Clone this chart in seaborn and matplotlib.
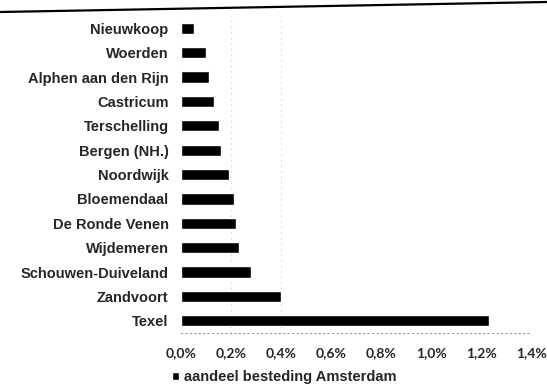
import matplotlib
matplotlib.use("Agg")
import matplotlib.pyplot as plt
from matplotlib.lines import Line2D
import seaborn as sns
import pandas as pd

# Share of Amsterdam spending per municipality (percent)
gemeenten = [
    "Nieuwkoop", "Woerden", "Alphen aan den Rijn", "Castricum", "Terschelling",
    "Bergen (NH.)", "Noordwijk", "Bloemendaal", "De Ronde Venen", "Wijdemeren",
    "Schouwen-Duiveland", "Zandvoort", "Texel",
]
aandeel = [0.05, 0.10, 0.11, 0.13, 0.15, 0.16, 0.19, 0.21, 0.22, 0.23, 0.28, 0.40, 1.23]
tick_values = [0.0, 0.2, 0.4, 0.6, 0.8, 1.0, 1.2, 1.4]
tick_labels = ["0,0%", "0,2%", "0,4%", "0,6%", "0,8%", "1,0%", "1,2%", "1,4%"]
legend_label = "aandeel besteding Amsterdam"

df = pd.DataFrame({"gemeente": gemeenten, "aandeel": aandeel})

sns.set_style("white")
plt.rcParams["font.family"] = ["Liberation Sans", "DejaVu Sans"]

fig = plt.figure(figsize=(5.47, 3.87), dpi=100)
ax = fig.add_axes([0.331, 0.1395, 0.64, 0.819])

sns.barplot(data=df, y="gemeente", x="aandeel", orient="h", color="black",
            width=0.46, label=legend_label, ax=ax, saturation=1)

ax.set_xlim(0, 1.4)
ax.set_xticks(tick_values)
ax.set_xticklabels(tick_labels, fontsize=10, fontweight="bold",
                   family=["Lato", "DejaVu Sans"])
ax.set_yticklabels(gemeenten, fontsize=10.5, fontweight="bold")
ax.tick_params(axis="x", length=0, pad=10)
ax.tick_params(axis="y", length=0, pad=9)
ax.set_xlabel("")
ax.set_ylabel("")

for s in ["top", "right", "left"]:
    ax.spines[s].set_visible(False)
ax.spines["bottom"].set_linestyle((0, (1, 3)))
ax.spines["bottom"].set_color("#9a9a9a")
ax.spines["bottom"].set_linewidth(0.8)

for v in (0.2, 0.4):
    ax.axvline(v, color="#c8c8c8", linestyle=(0, (1, 4)), linewidth=0.8, zorder=0)

if ax.get_legend() is not None:
    ax.get_legend().remove()
handles, labels = ax.get_legend_handles_labels()
fig.legend(handles[:1], labels[:1], loc="center left",
           bbox_to_anchor=(172 / 547, 1 - 377 / 387), frameon=False,
           handlelength=0.5, handleheight=0.5, handletextpad=0.3,
           borderaxespad=0, borderpad=0,
           prop={"size": 10.5, "weight": "bold"})

# page rule above the chart
fig.add_artist(Line2D([0, 1], [1 - 12 / 387, 1 - 2 / 387], transform=fig.transFigure,
                      color="black", linewidth=1.6))

fig.savefig("out.png", dpi=100)
